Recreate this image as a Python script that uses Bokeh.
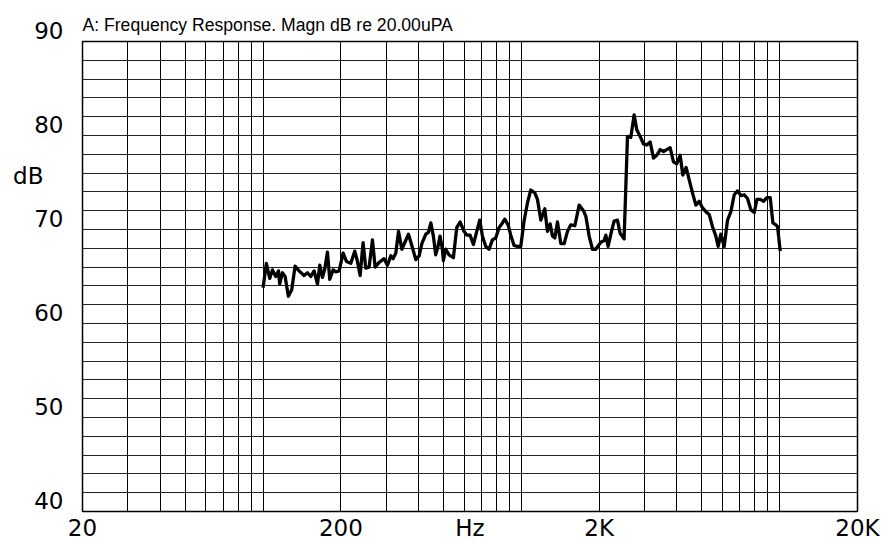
import math
from bokeh.plotting import figure
from bokeh.models import Grid, FixedTicker, Range1d, LinearAxis
from bokeh.embed import file_html
from bokeh.resources import INLINE

# ---- data ----
freq_hz = [
    100, 103.0, 106.1, 108.7, 112.0, 114.7, 116.0, 118.8, 121.7, 125.3,
    129.1, 133.0, 137.8, 144.1, 148.5, 153.0, 157.6, 162.4, 165.8, 169.7,
    173.3, 177.5, 181.2, 186.7, 191.2, 197.0, 204.1, 210.3, 218.6, 226.5,
    231.9, 237.5, 243.9, 249.7, 257.3, 265.1, 271.5, 281.4, 294.2, 303.0,
    312.3, 318.8, 326.5, 334.4, 344.5, 354.8, 365.5, 376.5, 390.2, 402.0,
    411.7, 426.6, 436.8, 446.1,
    456.3, 465.9, 475.7, 484.2, 494.5, 498.9, 509.4, 524.8, 545.5, 561.9,
    578.9, 599.9, 614.3, 632.9, 652.0, 671.6, 689.8, 706.4, 727.7, 749.7,
    772.3, 795.6, 819.6, 844.4, 862.1, 888.1, 909.5, 936.9, 965.2, 994.4,
    1024, 1055, 1087, 1127, 1154, 1189, 1232, 1261, 1292, 1319,
    1347, 1379, 1421, 1464, 1508, 1553, 1610, 1673, 1739, 1776,
    1829, 1884, 1941, 2000, 2041, 2091, 2122,
    2166, 2232, 2285, 2354, 2411, 2498, 2574, 2651, 2732, 2797,
    2882, 2969, 3058, 3151, 3246, 3343, 3444, 3548, 3655, 3765,
    3878, 3995, 4117, 4215, 4342, 4460, 4595, 4734, 4877, 5025,
    5176, 5332, 5493, 5658, 5777, 5916, 6095, 6280, 6470, 6665,
    6866, 7073, 7286, 7504, 7730, 7967, 8158, 8403, 8655, 8916,
    9185, 9408, 9662, 9807, 10043,
]
level_db = [
    63.8, 66.4, 64.8, 65.7, 65.0, 65.6, 64.2, 65.4, 65.0, 62.9,
    63.6, 66.1, 65.6, 65.1, 65.4, 65.0, 65.6, 64.2, 66.2, 64.9,
    65.8, 67.6, 64.7, 65.7, 65.5, 65.6, 67.5, 66.6, 66.4, 67.7,
    66.6, 65.1, 68.6, 65.9, 66.0, 68.9, 66.0, 66.5, 66.9, 66.2,
    67.2, 66.9, 67.5, 69.8, 67.9, 68.7, 69.5, 68.3, 66.8, 67.2,
    68.5, 69.5, 69.7, 70.7,
    69.3, 67.3, 68.2, 69.3, 67.9, 66.7, 67.9, 67.3, 67.0, 70.2,
    70.8, 69.8, 69.4, 69.4, 68.4, 69.8, 71.0, 69.3, 68.2, 67.9,
    68.9, 69.1, 70.2, 70.7, 71.1, 70.5, 69.4, 68.3, 68.2, 68.2,
    70.9, 72.8, 74.2, 73.9, 73.2, 71.0, 72.2, 69.8, 70.6, 69.3,
    69.1, 70.8, 68.5, 68.5, 69.8, 70.5, 70.4, 72.6, 72.0, 71.4,
    69.3, 67.9, 67.9, 68.4, 68.7, 68.8, 69.4,
    68.2, 69.8, 70.9, 71.0, 69.6, 69.0, 79.9, 79.8, 82.2, 80.6,
    79.9, 79.1, 79.0, 79.3, 77.6, 77.9, 78.5, 78.3, 78.5, 78.7,
    77.2, 77.0, 77.9, 75.8, 76.6, 75.3, 73.9, 72.6, 73.0, 72.3,
    71.9, 71.6, 70.3, 69.3, 68.2, 69.5, 68.2, 71.0, 71.9, 73.7,
    74.1, 73.6, 73.7, 73.3, 72.1, 71.8, 73.2, 73.2, 73.0, 73.4,
    73.4, 70.7, 70.5, 70.3, 67.7,
]

x_tick_values = [20, 200, 2000, 20000]
x_tick_labels = ["20", "200", "2K", "20K"]
x_axis_name = "Hz"
y_tick_values = [40, 50, 60, 70, 80, 90]
y_tick_labels = ["40", "50", "60", "70", "80", "90"]
y_axis_name = "dB"
x_grid_ticks = [30, 40, 50, 60, 70, 80, 90, 100,
                200, 300, 400, 500, 600, 700, 800, 900, 1000,
                2000, 3000, 4000, 5000, 6000, 7000, 8000, 9000, 10000]
y_grid_ticks = [42, 44, 46, 48, 50, 52, 54, 56, 58, 60, 62, 64,
                66, 68, 70, 72, 74, 76, 78, 80, 82, 84, 86, 88]
title_text = "A: Frequency Response. Magn dB re 20.00uPA"

x_lo, x_hi = x_tick_values[0], x_tick_values[-1]
y_lo, y_hi = y_tick_values[0], y_tick_values[-1]

TICK_FONT = "DejaVu Sans"
TICK_SIZE = "23px"

p = figure(
    width=883, height=543,
    x_axis_type="log",
    x_range=Range1d(x_lo, x_hi), y_range=Range1d(y_lo, y_hi),
    toolbar_location=None, output_backend="svg",
    min_border_left=82, min_border_right=26,
    min_border_top=41, min_border_bottom=30,
)
p.background_fill_color = "white"
p.border_fill_color = "white"
p.outline_line_color = "black"
p.outline_line_width = 1.5

p.title.text = title_text
p.title.align = "left"
p.title.text_font = "Liberation Sans"
p.title.text_font_size = "17.6px"
p.title.text_font_style = "normal"
p.title.text_color = "black"
p.title.standoff = 13


def style_axis(ax):
    ax.axis_line_color = None
    ax.major_tick_line_color = None
    ax.minor_tick_line_color = None
    ax.major_tick_in = 0
    ax.major_tick_out = 0
    ax.minor_tick_in = 0
    ax.minor_tick_out = 0
    ax.major_label_text_font = TICK_FONT
    ax.major_label_text_font_size = TICK_SIZE
    ax.major_label_text_font_style = "normal"
    ax.major_label_text_color = "black"


# x axis: tick labels plus the axis name "Hz" at the geometric centre
hz_pos = math.sqrt(x_lo * x_hi)
xa = p.xaxis[0]
style_axis(xa)
xa.ticker = FixedTicker(ticks=x_tick_values + [hz_pos])
overrides = dict(zip(x_tick_values, x_tick_labels))
overrides[hz_pos] = x_axis_name
xa.major_label_overrides = overrides
xa.major_label_standoff = 3

# y axis: numbers sit just above their grid line
ya = p.yaxis[0]
style_axis(ya)
ya.ticker = FixedTicker(ticks=y_tick_values)
ya.major_label_overrides = {v: t + "\n" for v, t in zip(y_tick_values, y_tick_labels)}
ya.major_label_text_line_height = 0.8
ya.major_label_standoff = 19

# outer left axis carrying the unit name "dB" between 70 and 80
name_pos = (y_tick_values[3] + y_tick_values[4]) / 2
ya2 = LinearAxis()
style_axis(ya2)
ya2.ticker = FixedTicker(ticks=[name_pos])
ya2.major_label_overrides = {name_pos: y_axis_name + "\n"}
ya2.major_label_text_line_height = 0.5
ya2.major_label_standoff = -12
p.add_layout(ya2, "left")

# replace default grids with fixed grids
p.center = [r for r in p.center if not isinstance(r, Grid)]
xg = Grid(dimension=0, ticker=FixedTicker(ticks=x_grid_ticks),
          grid_line_color="black", grid_line_width=1)
yg = Grid(dimension=1, ticker=FixedTicker(ticks=y_grid_ticks),
          grid_line_color="#222222", grid_line_width=1.2)
p.add_layout(xg, "center")
p.add_layout(yg, "center")

p.line(freq_hz, level_db, line_color="black", line_width=3.3, line_join="round")

open("out.html", "w").write(file_html(p, INLINE))
